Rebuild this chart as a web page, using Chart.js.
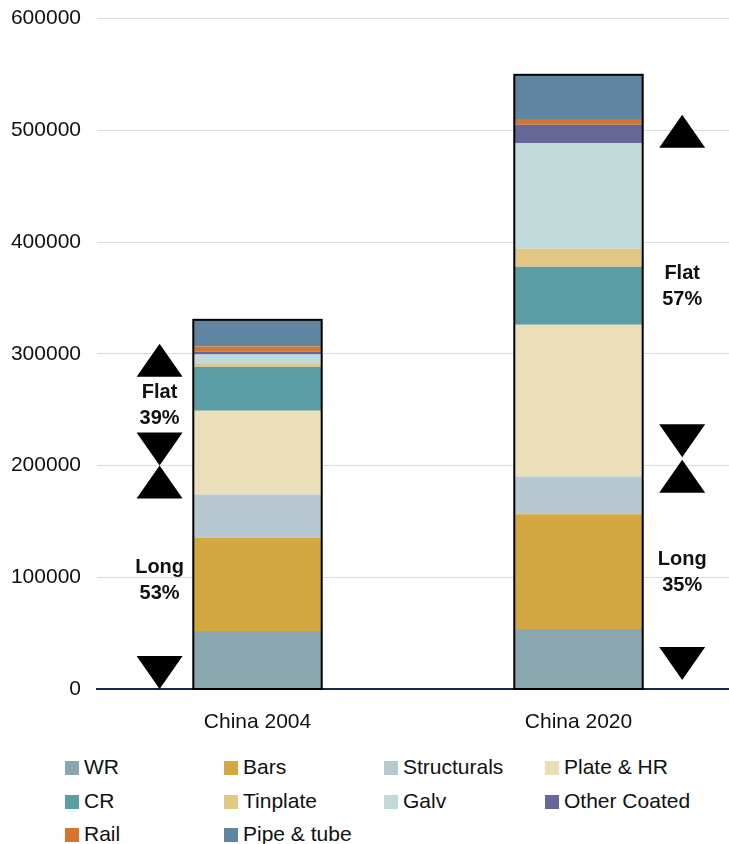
<!DOCTYPE html>
<html lang="en">
<head>
<meta charset="UTF-8">
<title>China steel products 2004 vs 2020</title>
<script src="https://cdn.jsdelivr.net/npm/chart.js"></script>
<style>
    html, body {
        margin: 0;
        padding: 0;
        background: #fff;
        overflow: hidden;
    }
    body {
        font-family: "Liberation Sans", Arial, sans-serif;
        width: 729px;
        height: 844px;
        position: relative;
    }
    #wrap {
        position: absolute;
        left: 0;
        top: -10px;
        width: 745px;
        height: 752px;
    }
    .item {
        position: absolute;
        font-size: 21px;
        color: #111;
        white-space: nowrap;
        line-height: 21px;
    }
    .item span.box {
        display: inline-block;
        width: 14px;
        height: 14px;
        margin-right: 5px;
        vertical-align: -1px;
    }
</style>
</head>
<body>
<div id="wrap"><canvas id="chart"></canvas></div>
<div id="legend"></div>

<script>
    // data
    const categories = ["China 2004", "China 2020"];
    const wr = [51800, 53600];
    const bars = [83600, 102700];
    const structurals = [38700, 33900];
    const plateHr = [75000, 135700];
    const cr = [39300, 52000];
    const tinplate = [2400, 16100];
    const galv = [8600, 94700];
    const otherCoated = [2600, 16400];
    const rail = [4500, 5000];
    const pipeTube = [23900, 39600];

    const seriesNames = ["WR", "Bars", "Structurals", "Plate & HR", "CR", "Tinplate", "Galv", "Other Coated", "Rail", "Pipe & tube"];
    const seriesValues = [wr, bars, structurals, plateHr, cr, tinplate, galv, otherCoated, rail, pipeTube];
    const seriesColors = ["#8aa6b1", "#d3a840", "#b6c9d0", "#ecdeb8", "#5b9da5", "#e3c785", "#bfdad9", "#676699", "#d4762e", "#5f85a0"];

    const yTicks = [0, 100000, 200000, 300000, 400000, 500000, 600000];

    // annotation arrows beside each bar (category index, values in tonnes)
    const noteIdx = [-0.305, 1.323];
    const upTips = [[308900, 200000], [514000, 205100]];
    const downTips = [[200000, 0], [207400, 8000]];
    const flatPct = ["39%", "57%"];
    const longPct = ["53%", "35%"];
    const flatAt = [253600, 359800];
    const longAt = [97300, 104500];

    const FONT = "'Liberation Sans', Arial, sans-serif";

    const stackOutline = {
        id: "stackOutline",
        afterDatasetsDraw(chart) {
            const ctx = chart.ctx;
            const y = chart.scales.y;
            const meta = chart.getDatasetMeta(0);
            ctx.save();
            ctx.strokeStyle = "#000";
            ctx.lineWidth = 2;
            categories.forEach((c, i) => {
                const total = seriesValues.reduce((s, arr) => s + arr[i], 0);
                const bar = meta.data[i];
                const top = y.getPixelForValue(total);
                const bottom = y.getPixelForValue(0);
                ctx.strokeRect(bar.x - bar.width / 2, top, bar.width, bottom - top);
            });
            ctx.restore();
        }
    };

    const arrowNotes = {
        id: "arrowNotes",
        afterDraw(chart) {
            const ctx = chart.ctx;
            const x = chart.scales.x;
            const y = chart.scales.y;
            const hw = 23, h = 33;
            ctx.save();
            noteIdx.forEach((idx, k) => {
                const cx = x.getPixelForValue(idx);
                ctx.fillStyle = "#000";
                upTips[k].forEach(v => {
                    const py = y.getPixelForValue(v);
                    ctx.beginPath();
                    ctx.moveTo(cx, py);
                    ctx.lineTo(cx - hw, py + h);
                    ctx.lineTo(cx + hw, py + h);
                    ctx.closePath();
                    ctx.fill();
                });
                downTips[k].forEach(v => {
                    const py = y.getPixelForValue(v);
                    ctx.beginPath();
                    ctx.moveTo(cx, py);
                    ctx.lineTo(cx - hw, py - h);
                    ctx.lineTo(cx + hw, py - h);
                    ctx.closePath();
                    ctx.fill();
                });
                ctx.font = "bold 20px " + FONT;
                ctx.textAlign = "center";
                ctx.textBaseline = "middle";
                ctx.fillStyle = "#111";
                let py = y.getPixelForValue(flatAt[k]);
                ctx.fillText("Flat", cx, py - 13);
                ctx.fillText(flatPct[k], cx, py + 13);
                py = y.getPixelForValue(longAt[k]);
                ctx.fillText("Long", cx, py - 13);
                ctx.fillText(longPct[k], cx, py + 13);
            });
            ctx.restore();
        }
    };

    const ctx = document.getElementById("chart").getContext("2d");
    new Chart(ctx, {
        type: "bar",
        data: {
            labels: categories,
            datasets: seriesNames.map((name, i) => ({
                label: name,
                data: seriesValues[i],
                backgroundColor: seriesColors[i],
                borderWidth: 0,
                barPercentage: 1,
                categoryPercentage: 0.4
            }))
        },
        options: {
            responsive: true,
            maintainAspectRatio: false,
            animation: false,
            layout: {
                padding: { top: 6, left: 0, right: 6, bottom: 0 }
            },
            plugins: {
                legend: { display: false },
                tooltip: { enabled: false }
            },
            scales: {
                x: {
                    stacked: true,
                    grid: { display: false, drawTicks: false },
                    border: { display: true, color: "#16294a", width: 2 },
                    ticks: {
                        color: "#111",
                        font: { size: 21, family: FONT },
                        padding: 21
                    },
                    afterFit(scale) { scale.height = 53; }
                },
                y: {
                    stacked: true,
                    min: 0,
                    max: 600000,
                    afterBuildTicks(scale) { scale.ticks = yTicks.map(v => ({ value: v })); },
                    grid: { color: "#d3dfe4", lineWidth: 1, drawTicks: false },
                    border: { display: false },
                    ticks: {
                        color: "#111",
                        font: { size: 21, family: FONT },
                        padding: 16,
                        callback: v => String(v)
                    },
                    afterFit(scale) { scale.width = 97; }
                }
            }
        },
        plugins: [stackOutline, arrowNotes]
    });

    // legend in 4 columns
    const colX = [65, 224, 384, 545];
    const rowY = [756, 790, 823];
    const legend = document.getElementById("legend");
    seriesNames.forEach((name, i) => {
        const d = document.createElement("div");
        d.className = "item";
        d.style.left = colX[i % 4] + "px";
        d.style.top = rowY[Math.floor(i / 4)] + "px";
        d.innerHTML = '<span class="box" style="background:' + seriesColors[i] + '"></span>' + name.replace("&", "&amp;");
        legend.appendChild(d);
    });
</script>
</body>
</html>
